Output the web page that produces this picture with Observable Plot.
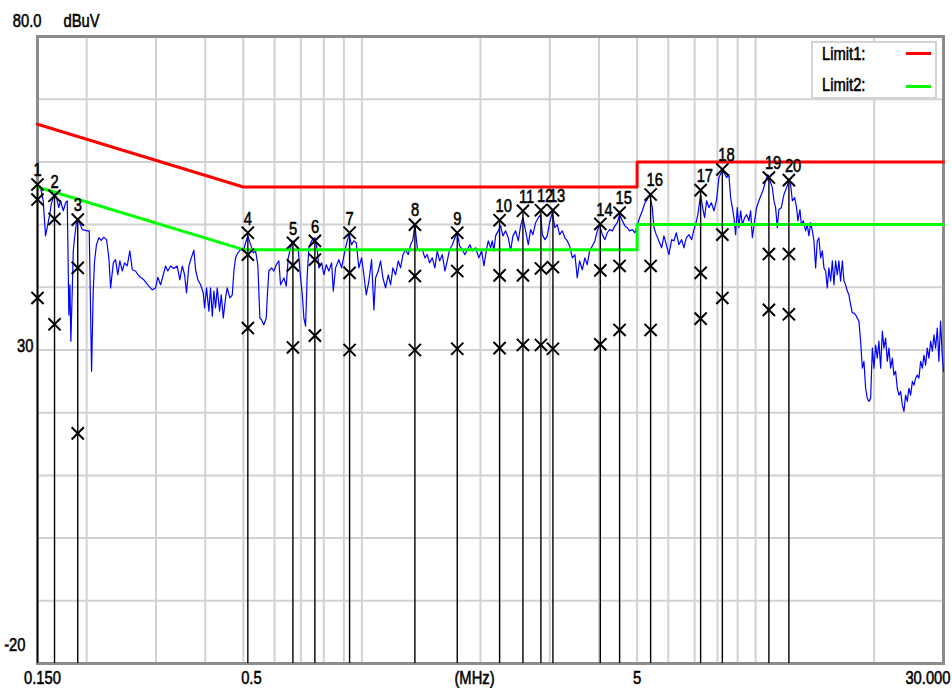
<!DOCTYPE html>
<html>
<head>
<meta charset="utf-8">
<script src="https://cdn.jsdelivr.net/npm/d3@7"></script>
<script src="https://cdn.jsdelivr.net/npm/@observablehq/plot@0.6"></script>
<style>
  html, body { margin: 0; padding: 0; background: #ffffff; }
  #wrap { position: relative; width: 952px; height: 688px; overflow: hidden; }
  #legend {
    position: absolute; left: 811px; top: 41px; width: 122px; height: 54px;
    background: #ffffff; border: 2px solid #d4d4d4;
    font-family: "Liberation Sans", Arial, sans-serif;
    font-size: 18px; color: #000; -webkit-text-stroke: 0.55px #000;
  }
  .lg-row { position: absolute; left: 9px; height: 20px; line-height: 20px;
            transform: scaleX(0.82); transform-origin: left center; white-space: nowrap; }
  .lg-swatch { position: absolute; left: 93px; width: 25px; height: 3px; }
</style>
</head>
<body>
<div id="wrap"></div>
<script>
// ---------- data ----------
const xTickValues = [0.15, 0.5, 5, 30];
const xTickLabels = ["0.150", "0.5", "5", "30.000"];
const xUnitLabel = "(MHz)";
const yTickValues = [80, 30, -20];
const yTickLabels = ["80.0", "30", "-20"];
const yUnitLabel = "dBuV";
const xDomain = [0.15, 30];
const yDomain = [-20, 80];
const xGridValues = [0.2, 0.3, 0.4, 0.5, 0.6, 0.7, 0.8, 0.9, 1, 2, 3, 4, 5, 6, 7, 8, 9, 10, 20];
const yGridValues = [-10, 0, 10, 20, 30, 40, 50, 60, 70];

const legendLabels = ["Limit1:", "Limit2:"];
const limit1Freq = [0.15, 0.5, 5, 5, 30];
const limit1Level = [66, 56, 56, 60, 60];
const limit2Freq = [0.15, 0.5, 5, 5, 30];
const limit2Level = [56, 46, 46, 50, 50];

const markerIds = [1, 2, 3, 4, 5, 6, 7, 8, 9, 10, 11, 12, 13, 14, 15, 16, 17, 18, 19, 20];
const markerFreq = [0.150, 0.1657, 0.1898, 0.5132, 0.668, 0.7596, 0.9305, 1.3633, 1.7464, 2.2372,
                    2.5642, 2.8487, 3.056, 4.032, 4.5135, 5.411, 7.249, 8.231, 10.806, 12.147];
const markerPeak = [56.4, 54.6, 50.8, 48.7, 47.1, 47.4, 48.7, 50.0, 48.7, 50.7,
                    52.2, 52.3, 52.3, 50.1, 51.9, 54.8, 55.5, 58.8, 57.5, 57.1];
const markerQP   = [54.0, 50.9, 43.1, 45.2, 43.5, 44.4, 42.3, 41.8, 42.6, 41.9,
                    41.9, 43.0, 43.2, 42.7, 43.4, 43.4, 42.3, 48.4, 45.3, 45.3];
const markerAV   = [38.3, 34.1, 16.7, 33.5, 30.4, 32.3, 30.0, 30.0, 30.2, 30.3,
                    30.8, 30.8, 30.2, 30.9, 33.2, 33.2, 35.0, 38.3, 36.4, 35.7];

const traceFreq = [
0.1500,0.1527,0.1551,0.1572,0.1593,0.1612,0.1626,0.1645,0.1657,0.1676,0.1699,0.1717,0.1744,0.1768,0.1785,
0.1802,0.1813,0.1823,0.1838,0.1849,0.1863,0.1884,0.1910,0.1949,0.2007,0.2030,0.2046,0.2058,0.2078,0.2094,
0.2118,0.2147,0.2178,0.2211,0.2246,0.2277,0.2300,0.2337,0.2368,0.2399,0.2428,0.2463,0.2496,0.2535,0.2574,
0.2611,0.2661,0.2713,0.2794,0.2876,0.2935,0.2992,0.3031,0.3081,0.3130,0.3172,0.3214,0.3266,0.3330,0.3395,
0.3448,0.3498,0.3545,0.3586,0.3635,0.3687,0.3744,0.3781,0.3831,0.3893,0.3955,0.3985,0.4031,0.4086,0.4127,
0.4169,0.4208,0.4249,0.4291,0.4350,0.4394,0.4446,0.4505,0.4549,0.4620,0.4686,0.4730,0.4777,0.4841,0.4919,
0.4998,0.5065,0.5132,0.5215,0.5299,0.5369,0.5441,0.5506,
0.5562,0.5637,0.5715,0.5748,0.5803,0.5897,0.5977,0.6060,0.6153,0.6215,0.6337,0.6425,0.6500,0.6590,0.6680,
0.6785,0.6892,0.6987,0.7057,0.7123,0.7193,0.7264,0.7333,0.7451,0.7596,0.7701,0.7774,0.7900,0.8007,0.8119,
0.8243,0.8376,0.8460,0.8573,0.8740,0.8881,0.9001,0.9126,0.9266,0.9415,0.9542,0.9675,0.9823,0.9982,1.0117,
1.0259,1.0416,1.0584,1.0727,1.0833,1.1003,1.1155,1.1307,1.1485,1.1666,1.1827,1.1988,1.2177,1.2369,1.2539,
1.2710,1.2910,1.3113,1.3294,1.3475,1.3633,1.3821,1.4012,1.4237,1.4454,1.4654,1.4856,1.5094,1.5324,1.5536,
1.5750,1.6003,1.6247,1.6472,1.6699,1.6967,1.7226,1.7464,1.7705,1.7989,1.8263,1.8516,1.8805,1.9073,1.9442,
1.9819,2.0139,2.0412,2.0696,2.0938,2.1227,2.1440,2.1641,2.1855,2.2199,2.2505,2.2811,2.3171,2.3536,2.3861,
2.4185,2.4567,2.4954,2.5298,2.5642,2.6047,2.6457,2.6822,2.7187,2.7615,2.8050,2.8437,2.8723,2.9161,2.9565,
2.9972,3.0453,3.0917,3.1345,3.1776,3.2287,3.2779,3.3233,3.3691,3.4232,3.4754,3.5235,3.5720,3.6294,3.6847,
3.7357,3.7872,3.8480,3.9066,3.9607,4.0153,4.0798,4.1420,4.1993,4.2572,4.3256,4.3914,4.4522,4.5135,4.5861,
4.6560,4.7204,4.7854,4.8622,4.9362,5.0045,5.0734,5.1549,5.2335,5.3059,5.379,5.465,5.517,5.593,5.679,
5.771,5.849,5.930,6.021,6.118,6.201,6.287,6.384,6.487,6.575,6.666,6.769,6.878,6.971,
7.039,7.133,7.249,7.335,7.420,7.506,7.608,7.717,7.836,7.959,8.067,8.182,8.308,8.438,8.552,
8.639,8.726,8.808,8.895,8.982,9.067,9.160,9.252,9.376,9.485,9.614,9.711,9.809,9.941,10.056,
10.192,10.338,10.460,10.600,10.741,10.871,11.026,11.129,11.239,11.349,11.457,11.621,11.800,11.985,12.147,
12.271,12.394,12.561,12.706,12.802,12.956,13.064,13.217,13.394,13.525,13.654,13.793,13.932,14.063,14.202,
14.340,14.477,14.625,14.772,14.910,15.057,15.204,15.349,15.505,15.661,15.808,15.964,16.119,16.273,16.439,
16.604,16.760,16.925,17.091,17.254,17.429,17.605,17.770,17.945,18.293,18.479,18.665,18.840,19.025,19.211,
19.395,19.592,19.789,19.974,20.171,20.368,20.563,20.772,20.981,21.177,21.386,21.595,21.801,22.023,22.244,
22.453,22.674,22.896,23.115,23.349,23.584,23.805,24.040,24.275,24.506,24.756,25.005,25.239,25.488,25.737,
25.983,26.247,26.510,26.759,27.023,27.286,27.547,27.827,28.107,28.371,28.651,28.931,29.20,29.49,29.78,30.00
];
const traceLevel = [
56.4,55.9,53.8,48.2,50.0,51.7,53.3,54.3,54.9,54.3,52.7,53.8,52.2,53.5,53.8,
35.6,40.4,31.4,39.4,45.8,47.9,50.3,50.6,49.2,49.0,49.0,36.2,26.6,39.4,44.2,
46.8,47.9,47.5,48.0,47.6,44.7,39.9,43.9,44.4,42.0,44.2,42.6,43.9,43.4,45.8,
42.8,42.6,41.8,41.2,40.2,39.6,39.9,41.6,40.4,42.0,43.4,42.6,43.4,43.0,43.4,
41.2,43.4,42.0,39.1,43.4,44.7,45.9,42.8,41.2,40.4,39.1,36.7,39.9,36.2,39.9,
35.4,39.4,36.7,39.9,36.2,38.8,35.1,38.3,39.9,38.3,38.8,42.6,44.7,45.5,46.0,
45.8,47.1,48.2,46.8,45.5,45.8,43.6,35.1,
34.8,34.0,35.1,38.3,42.6,43.1,42.6,43.6,44.2,40.4,41.5,40.2,44.7,46.3,47.4,
46.6,46.0,41.5,38.8,35.1,33.8,42.0,46.3,47.4,47.9,46.0,43.1,43.9,42.0,43.6,
42.6,43.9,39.4,43.1,44.4,43.1,45.0,46.8,48.4,46.8,47.4,47.1,43.1,44.7,42.0,
38.8,41.0,44.4,36.4,41.5,42.6,44.2,41.5,39.9,42.0,40.4,43.1,42.0,44.2,43.1,
45.2,46.0,45.2,46.8,47.6,50.0,46.3,45.8,46.0,44.7,45.2,43.9,44.7,43.1,45.8,
44.2,45.2,42.6,44.2,46.0,46.8,47.9,48.7,46.6,46.0,45.2,46.0,46.8,45.8,46.3,
44.7,45.8,43.4,45.8,47.4,46.3,47.4,45.8,48.2,49.0,49.8,48.2,49.0,47.9,45.8,
48.2,49.0,47.4,49.8,51.1,49.0,46.8,49.2,48.4,50.3,51.1,51.6,48.4,47.6,48.2,
50.3,51.9,49.5,50.0,48.4,49.0,47.9,47.4,46.6,44.7,45.2,41.5,44.2,42.8,44.7,
43.6,45.8,46.6,47.4,49.0,50.0,48.4,47.6,48.7,49.2,49.0,49.8,50.3,51.6,50.6,
49.8,49.5,49.0,49.2,48.7,49.8,51.1,52.2,53.5,54.0,54.8,52.7,49.5,48.4,47.4,
46.3,48.2,46.8,45.2,47.6,47.4,48.7,46.8,47.6,46.3,47.9,48.4,47.6,49.2,
50.0,51.6,54.8,52.7,51.1,53.8,52.7,53.5,52.2,54.0,57.5,58.3,58.3,57.5,58.0,
54.3,52.7,51.1,48.4,52.7,49.5,52.2,50.0,51.1,51.6,50.6,52.2,47.9,50.6,52.7,
53.8,54.8,55.6,57.0,58.0,57.0,55.9,53.8,52.7,49.5,52.4,52.7,54.8,55.9,57.0,
56.4,53.8,54.3,52.7,50.6,52.4,50.0,50.6,49.0,50.0,48.2,50.3,49.0,47.4,43.1,
47.4,47.9,44.7,45.8,43.1,42.6,39.9,43.1,41.0,44.2,40.4,44.2,42.0,44.2,41.0,
44.2,41.0,40.4,39.4,38.8,37.2,35.9,35.9,35.6,34.6,31.4,27.1,28.2,23.9,22.3,
21.8,22.3,30.3,27.1,30.8,28.7,31.4,27.1,33.0,30.3,31.9,28.2,30.3,27.1,28.7,
26.0,26.6,23.9,22.8,23.4,21.2,20.2,22.8,21.8,23.9,22.8,25.0,24.4,25.5,26.0,
25.5,28.2,27.1,29.2,27.6,30.3,28.7,31.4,29.8,32.4,30.3,33.5,28.2,34.6,29.2,26.6
];

// ---------- tables built from the arrays ----------
const trace = traceFreq.map((f, i) => ({f, v: traceLevel[i]}));
const limit1 = limit1Freq.map((f, i) => ({f, v: limit1Level[i]}));
const limit2 = limit2Freq.map((f, i) => ({f, v: limit2Level[i]}));
const markers = markerIds.map((id, i) => ({id: String(id), f: markerFreq[i], pk: markerPeak[i]}));
const crosses = markerIds.flatMap((id, i) => [
  {f: markerFreq[i], v: markerPeak[i]},
  {f: markerFreq[i], v: markerQP[i]},
  {f: markerFreq[i], v: markerAV[i]}
]);

const FONT = '"Liberation Sans", Arial, sans-serif';
const FS = 18;
const txt = {fontSize: FS, fontFamily: FONT, fill: "#000", stroke: "#000", strokeWidth: 0.55, lineAnchor: "middle"};

// axis-label placement offsets (presentation only)
const xLabelDx = [5, 8, 0, 7];
const xLabelAnchor = ["middle", "middle", "middle", "end"];
const yLabelDx = [4, -4, -12];
const yLabelDy = [-15.5, -3.5, -18];

const textMarks = [];
xTickValues.forEach((val, i) => {
  textMarks.push(Plot.text([i], {
    ...txt, x: j => xTickValues[j], text: j => xTickLabels[j], frameAnchor: "bottom",
    dy: 15, dx: xLabelDx[i], textAnchor: xLabelAnchor[i]
  }));
});
yTickValues.forEach((val, i) => {
  textMarks.push(Plot.text([i], {
    ...txt, y: j => yTickValues[j], text: j => yTickLabels[j], frameAnchor: "left",
    textAnchor: "end", dx: yLabelDx[i], dy: yLabelDy[i]
  }));
});
textMarks.push(Plot.text([yUnitLabel], {
  ...txt, text: d => d, frameAnchor: "top-left", textAnchor: "start", dx: 26, dy: -15.5
}));
textMarks.push(Plot.text([xUnitLabel], {
  ...txt, text: d => d, frameAnchor: "bottom", textAnchor: "middle", dx: -16, dy: 15
}));

const chart = Plot.plot({
  width: 952,
  height: 688,
  marginLeft: 37,
  marginRight: 9,
  marginTop: 36,
  marginBottom: 25,
  style: {background: "#ffffff", fontFamily: FONT, fontSize: FS + "px", overflow: "visible"},
  x: {type: "log", domain: xDomain, axis: null},
  y: {domain: yDomain, axis: null},
  marks: [
    Plot.ruleX(xGridValues, {x: d => d, stroke: "#d2d2d2", strokeWidth: 2}),
    Plot.ruleY(yGridValues, {y: d => d, stroke: "#d2d2d2", strokeWidth: 2}),
    Plot.frame({stroke: "#8c8c8c", strokeWidth: 3}),
    Plot.line(trace, {x: "f", y: "v", stroke: "#0000ff", strokeWidth: 1.2}),
    Plot.line(limit1, {x: "f", y: "v", stroke: "#ff0000", strokeWidth: 3}),
    Plot.line(limit2, {x: "f", y: "v", stroke: "#00ff00", strokeWidth: 3}),
    Plot.ruleX(markers, {x: "f", y1: "pk", y2: () => yDomain[0], stroke: "#000", strokeWidth: 1.4}),
    Plot.dot(crosses, {x: "f", y: "v", symbol: "times", r: 5.6, stroke: "#000", strokeWidth: 2}),
    Plot.text(markers, {...txt, x: "f", y: "pk", text: "id", textAnchor: "start", dx: -4, dy: -14}),
    ...textMarks
  ]
});

// narrow the text glyphs horizontally (Arial Narrow look), keeping each anchor in place
chart.querySelectorAll("text").forEach(t => {
  const tr = t.getAttribute("transform") || "";
  t.setAttribute("transform", (tr + " scale(0.82,1)").trim());
});

const wrap = document.getElementById("wrap");
wrap.appendChild(chart);

// legend overlay (inside the plot frame, top-right)
const legendColors = ["#ff0000", "#00ff00"];
const legend = document.createElement("div");
legend.id = "legend";
legendLabels.forEach((lab, i) => {
  const row = document.createElement("div");
  row.className = "lg-row";
  row.style.top = (i === 0 ? 1 : 32) + "px";
  row.textContent = lab;
  legend.appendChild(row);
  const sw = document.createElement("div");
  sw.className = "lg-swatch";
  sw.style.top = (i === 0 ? 9 : 42) + "px";
  sw.style.background = legendColors[i];
  legend.appendChild(sw);
});
wrap.appendChild(legend);
</script>
</body>
</html>
